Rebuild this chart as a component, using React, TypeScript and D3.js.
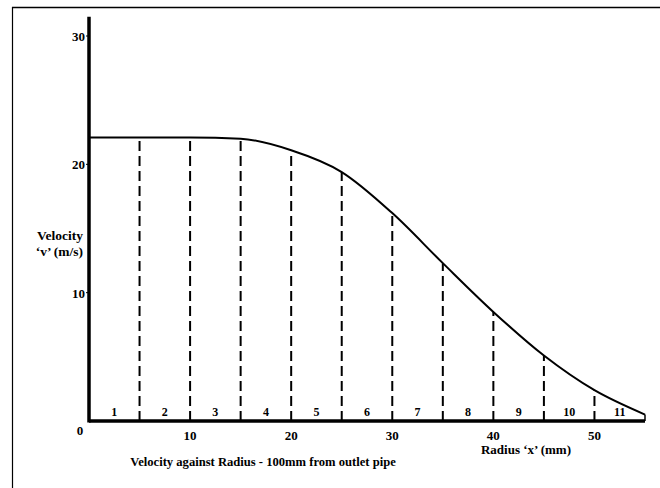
import React from "react";
import * as d3 from "d3";

const radius = [0, 5, 10, 15, 20, 25, 30, 35, 40, 45, 50, 55];
const velocity = [22.1, 22.1, 22.1, 22.0, 21.1, 19.4, 16.2, 12.3, 8.5, 5.1, 2.4, 0.5];
const dividers = [5, 10, 15, 20, 25, 30, 35, 40, 45, 50];
const cellLabels = ["1", "2", "3", "4", "5", "6", "7", "8", "9", "10", "11"];
const xTicks = [10, 20, 30, 40, 50];
const yTicks = [10, 20, 30];

const W = 660;
const H = 488;

export default function App() {
  const x = d3.scaleLinear().domain([0, 55]).range([89, 645]);
  const y = d3.scaleLinear().domain([0, 30]).range([421, 36]);
  const line = d3
    .line<number>()
    .x((_, i) => x(radius[i]))
    .y((d) => y(d))
    .curve(d3.curveMonotoneX);
  const valueAt = (r: number) => velocity[radius.indexOf(r)];
  const font = "'Liberation Serif', 'DejaVu Serif', serif";
  const cellEdges = [0, ...dividers, 55];
  return (
    <svg
      width={W}
      height={H}
      style={{ position: "absolute", left: 0, top: 0, background: "#fff" }}
      fontFamily={font}
    >
      <rect x={0} y={0} width={W} height={H} fill="#fff" />
      {/* frame */}
      <line x1={12} y1={7.5} x2={W} y2={7.5} stroke="#000" strokeWidth={1.5} />
      <line x1={12.5} y1={7} x2={12.5} y2={H} stroke="#000" strokeWidth={1.2} />

      {/* dashed dividers */}
      {dividers.map((r) => (
        <line
          key={r}
          x1={x(r)}
          x2={x(r)}
          y1={y(0)}
          y2={y(valueAt(r))}
          stroke="#000"
          strokeWidth={2}
          strokeDasharray="10,5"
        />
      ))}

      {/* curve */}
      <path d={line(velocity) || ""} fill="none" stroke="#000" strokeWidth={2} />
      <line
        x1={x(55)}
        x2={x(55)}
        y1={y(velocity[velocity.length - 1])}
        y2={y(0)}
        stroke="#000"
        strokeWidth={1.5}
      />

      {/* axes */}
      <line x1={89} x2={89} y1={y(31.5)} y2={y(0) + 1.5} stroke="#000" strokeWidth={3.5} />
      <line x1={x(0)} x2={x(55)} y1={y(0)} y2={y(0)} stroke="#000" strokeWidth={3.5} />
      {yTicks.map((t) => (
        <line key={t} x1={86} x2={89} y1={y(t)} y2={y(t)} stroke="#000" strokeWidth={1} />
      ))}

      {/* cell numbers */}
      {cellLabels.map((lab, i) => (
        <text
          key={lab}
          x={(x(cellEdges[i]) + x(cellEdges[i + 1])) / 2}
          y={416}
          textAnchor="middle"
          fontSize={12}
          fontWeight="bold"
        >
          {lab}
        </text>
      ))}

      {/* y tick labels */}
      {yTicks.map((t) => (
        <text
          key={t}
          x={85}
          y={y(t) + 5}
          textAnchor="end"
          fontSize={13}
          fontWeight="bold"
        >
          {t}
        </text>
      ))}

      {/* x tick labels */}
      <text x={80} y={435} textAnchor="middle" fontSize={13} fontWeight="bold">0</text>
      {xTicks.map((t) => (
        <text key={t} x={x(t)} y={440} textAnchor="middle" fontSize={13} fontWeight="bold">
          {t}
        </text>
      ))}

      {/* axis titles */}
      <text x={83} y={240} textAnchor="end" fontSize={13.5} fontWeight="bold">Velocity</text>
      <text x={83} y={256} textAnchor="end" fontSize={13.5} fontWeight="bold">‘v’ (m/s)</text>
      <text x={526} y={454} textAnchor="middle" fontSize={13} fontWeight="bold">Radius ‘x’ (mm)</text>
      <text x={263} y={466} textAnchor="middle" fontSize={12.6} fontWeight="bold">
        Velocity against Radius - 100mm from outlet pipe
      </text>
    </svg>
  );
}
